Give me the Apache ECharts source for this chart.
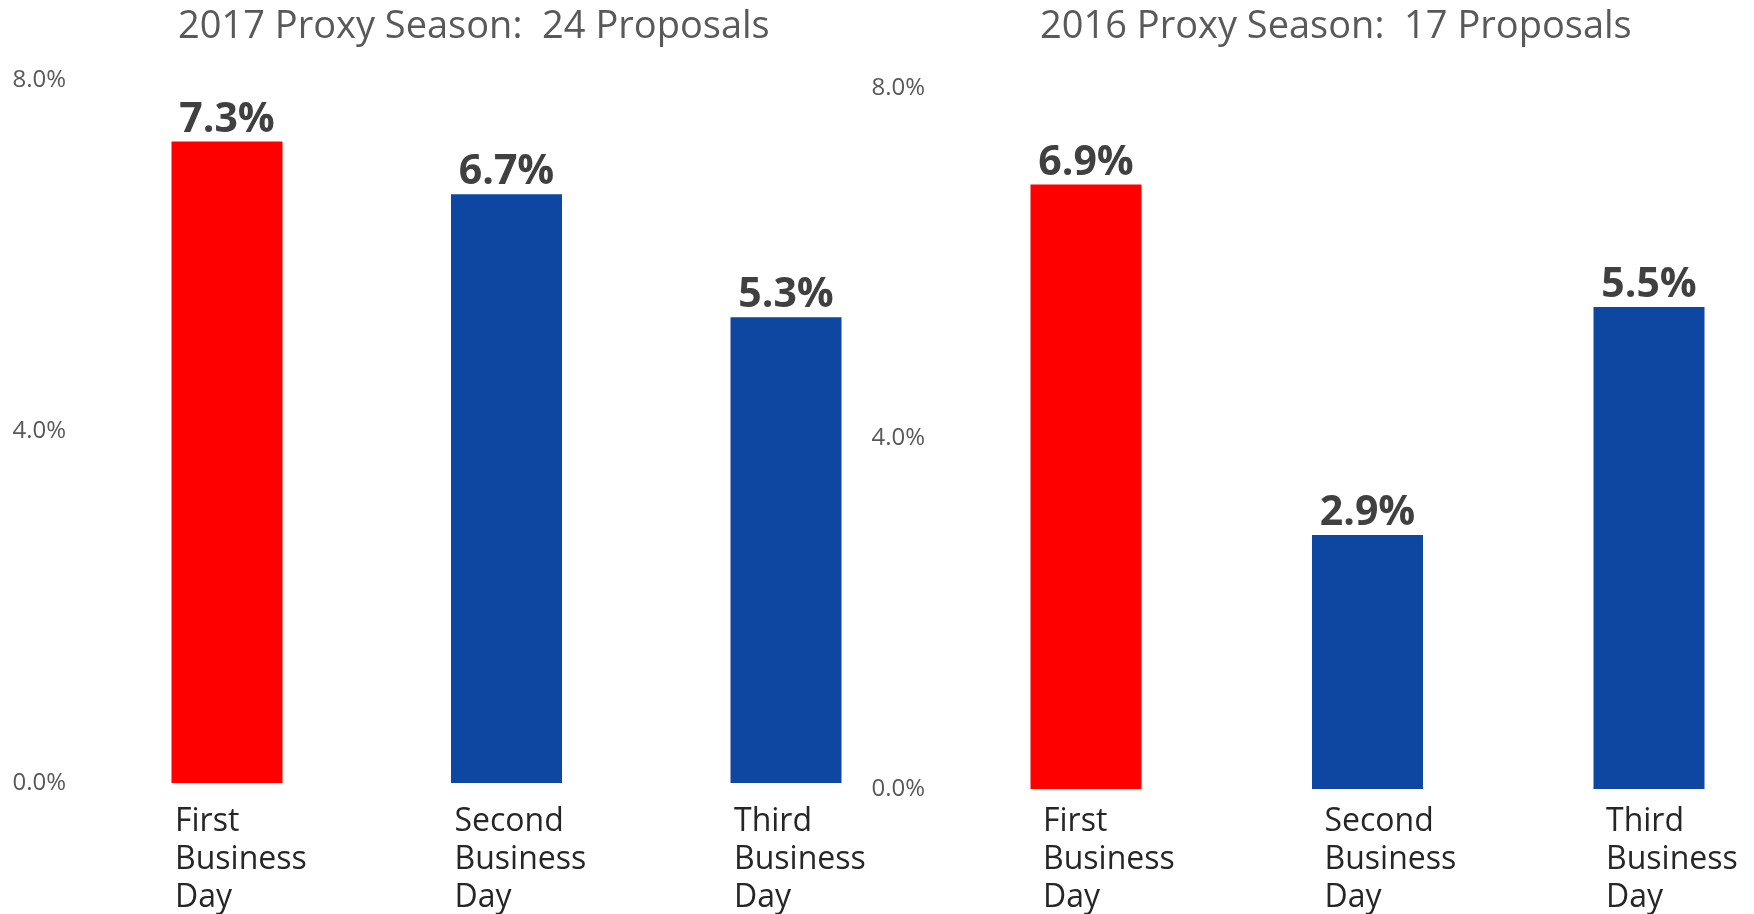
<!DOCTYPE html>
<html>
<head>
<meta charset="utf-8">
<title>Proxy Season Proposals by Business Day</title>
<script src="https://cdn.jsdelivr.net/npm/echarts@6/dist/echarts.min.js"></script>
<style>
  html, body { margin: 0; padding: 0; background: #ffffff; }
  #chart { width: 1754px; height: 914px; }
</style>
</head>
<body>
<div id="chart"></div>
<script>
// Share of proposals submitted on each business day, two proxy seasons
const categories = ['First Business Day', 'Second Business Day', 'Third Business Day'];
const values2017 = [7.3, 6.7, 5.3];
const values2016 = [6.9, 2.9, 5.5];
const panelTitles = ['2017 Proxy Season:  24 Proposals', '2016 Proxy Season:  17 Proposals'];
const yTicks = [0, 4, 8];

const FONT = '"Open Sans", "Noto Sans", sans-serif';
const RED = '#FF0000';
const BLUE = '#0D47A1';

const chart = echarts.init(document.getElementById('chart'), null, { renderer: 'canvas' });

// Each panel: categories sit on the grid edges and centre (boundaryGap off),
// so the grid spans from the first bar centre to the last one.
const panels = [
  { left: 227, top: 80, width: 559, height: 703, labelMargin: 20, labelShift: 0, titleLeft: 173, values: values2017 },
  { left: 1086, top: 88, width: 563, height: 701, labelMargin: 14, labelShift: 18, titleLeft: 1035, values: values2016 }
];

function categoryLabel(v) {
  return v.split(' ').map(w => '{c|' + w + '}').join('\n');
}

const option = {
  backgroundColor: '#ffffff',
  animation: false,
  title: panels.map((p, i) => ({
    text: panelTitles[i],
    left: p.titleLeft,
    top: 3,
    textStyle: { fontFamily: FONT, fontSize: 38, fontWeight: 'normal', color: '#595959' }
  })),
  grid: panels.map(p => ({ left: p.left, top: p.top, width: p.width, height: p.height, containLabel: false })),
  xAxis: panels.map((p, i) => ({
    type: 'category',
    gridIndex: i,
    data: categories,
    boundaryGap: false,
    axisLine: { show: false },
    axisTick: { show: false },
    splitLine: { show: false },
    axisLabel: {
      interval: 0,
      margin: p.labelMargin,
      align: 'center',
      padding: [0, 0, 0, p.labelShift],
      formatter: categoryLabel,
      rich: {
        c: { width: 104, align: 'left', fontFamily: FONT, fontSize: 32, lineHeight: 38, color: '#262626' }
      }
    }
  })),
  yAxis: panels.map((p, i) => ({
    type: 'value',
    gridIndex: i,
    min: yTicks[0],
    max: yTicks[yTicks.length - 1],
    interval: yTicks[1] - yTicks[0],
    axisLine: { show: false },
    axisTick: { show: false },
    splitLine: { show: false },
    axisLabel: {
      margin: 161,
      fontFamily: FONT,
      fontSize: 24,
      color: '#595959',
      formatter: v => v.toFixed(1) + '%'
    }
  })),
  series: panels.map((p, i) => ({
    type: 'bar',
    xAxisIndex: i,
    yAxisIndex: i,
    data: p.values,
    barWidth: 111,
    clip: false,
    itemStyle: { color: params => (params.dataIndex === 0 ? RED : BLUE) },
    label: {
      show: true,
      position: 'top',
      distance: 1,
      fontFamily: FONT,
      fontSize: 41,
      fontWeight: 'bold',
      color: '#404040',
      formatter: params => params.value.toFixed(1) + '%'
    }
  }))
};

chart.setOption(option);
</script>
</body>
</html>
